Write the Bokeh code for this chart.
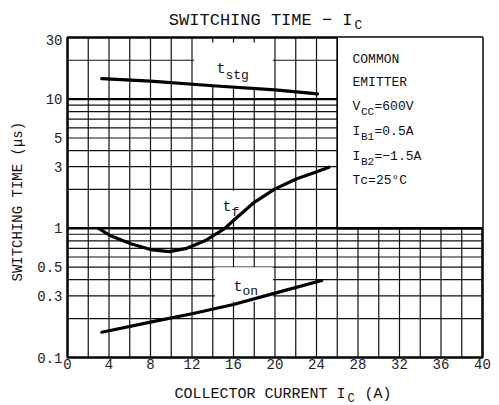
import numpy as np
from bokeh.plotting import figure
from bokeh.layouts import column
from bokeh.models import Label, FixedTicker
from bokeh.core.properties import value
from bokeh.embed import file_html
from bokeh.resources import INLINE

# ---- data ----
ic_stg = [3.3, 8, 14, 20, 24.1]
t_stg = [14.4, 13.8, 12.7, 11.8, 11.0]

ic_f = [3.0, 4.1, 6.1, 8.0, 9.8, 11.5, 13.3, 15.1, 16.0, 18.0, 20.0, 22.1, 24.1, 25.2]
t_f = [1.0, 0.88, 0.76, 0.685, 0.66, 0.70, 0.805, 0.99, 1.15, 1.59, 2.02, 2.42, 2.75, 2.97]

ic_on = [3.3, 8, 12, 16, 20, 24.5]
t_on = [0.157, 0.188, 0.218, 0.257, 0.315, 0.394]

x_ticks = [0, 4, 8, 12, 16, 20, 24, 28, 32, 36, 40]
x_tick_labels = ["0", "4", "8", "12", "16", "20", "24", "28", "32", "36", "40"]
y_ticks = [0.1, 0.3, 0.5, 1, 3, 5, 10, 30]
y_tick_labels = ["0.1", "0.3", "0.5", "1", "3", "5", "10", "30"]

x_grid = [0, 2, 4, 6, 8, 10, 12, 14, 16, 18, 20, 22, 24, 26, 28, 30, 32, 34, 36, 38, 40]
y_grid = [0.1, 0.2, 0.3, 0.4, 0.5, 0.6, 0.7, 0.8, 0.9, 1, 2, 3, 4, 5, 6, 7, 8, 9, 10, 20, 30]
y_grid_major = [1, 10]

title_main, title_sub = "SWITCHING TIME \u2212 I", "C"
xlabel_main, xlabel_sub, xlabel_unit = "COLLECTOR CURRENT I", "C", "(A)"
ylabel = "SWITCHING TIME  (\u03bcs)"

FONT = "Liberation Mono"

W = 491
TOP_H, BOT_H = 34, 27
ML, MR, MT, MB = 67, 9, 3, 20
FH = 320
H = MT + FH + MB
X0, X1 = 0, 40
Y0, Y1 = 0.1, 30


def strip(h):
    # frame lined up with the chart's frame; x data = page pixel
    f = figure(width=W, height=h, x_range=(ML, W - MR), y_range=(h, 0),
               output_backend="svg", toolbar_location=None,
               x_axis_location=None, y_axis_location=None,
               min_border_left=ML, min_border_right=MR,
               min_border_top=0, min_border_bottom=0)
    f.xgrid.visible = False
    f.ygrid.visible = False
    f.outline_line_color = None
    f.background_fill_color = "white"
    f.border_fill_color = "white"
    return f


def stext(f, x, y, t, size, align="left"):
    f.text(x=[x], y=[y], text=[t], text_font=value(FONT), text_font_size=value(f"{size}px"),
           text_color="#111111", text_baseline="alphabetic", text_align=align)


# ---- title strip ----
top = strip(TOP_H)
TA = 352
stext(top, TA, 20, title_main, 17, align="right")
stext(top, TA + 2, 25, title_sub, 13)

# ---- main chart ----
p = figure(width=W, height=H, x_range=(X0, X1), y_range=(Y0, Y1), y_axis_type="log",
           output_backend="svg", toolbar_location=None,
           min_border_left=ML, min_border_right=MR, min_border_top=MT, min_border_bottom=MB)
p.xgrid.visible = False
p.ygrid.visible = False
p.outline_line_color = "black"
p.outline_line_width = 2.5
p.background_fill_color = "white"
p.border_fill_color = "white"

for ax, ticks, labels in ((p.xaxis[0], x_ticks, x_tick_labels), (p.yaxis[0], y_ticks, y_tick_labels)):
    ax.ticker = FixedTicker(ticks=ticks)
    ax.major_label_overrides = {t: l for t, l in zip(ticks, labels)}
    ax.axis_line_color = None
    ax.major_tick_line_color = None
    ax.minor_tick_line_color = None
    ax.major_tick_in = 0
    ax.major_tick_out = 0
    ax.major_label_text_font = FONT
    ax.major_label_text_font_size = "14px"
    ax.major_label_text_color = "#222222"
p.xaxis.major_label_standoff = 1
p.yaxis.major_label_standoff = 5
p.yaxis.axis_label = ylabel
p.yaxis.axis_label_text_font = FONT
p.yaxis.axis_label_text_font_size = "14px"
p.yaxis.axis_label_text_font_style = "normal"
p.yaxis.axis_label_text_color = "#111111"
p.yaxis.axis_label_standoff = 8

# grid
p.segment(x0=x_grid, x1=x_grid, y0=[Y0] * len(x_grid), y1=[Y1] * len(x_grid),
          line_color="#111111", line_width=1.2)
p.segment(x0=[X0] * len(y_grid), x1=[X1] * len(y_grid), y0=y_grid, y1=y_grid,
          line_color="#111111", line_width=1.2)
p.segment(x0=[X0] * len(y_grid_major), x1=[X1] * len(y_grid_major), y0=y_grid_major, y1=y_grid_major,
          line_color="black", line_width=2.4)

# white label areas
p.quad(left=[26, 12.2, 14.3, 14.2], right=[40, 19.8, 17.5, 19.8],
       bottom=[1, 12.4, 1.2, 0.27], top=[30, 27.5, 1.95, 0.5],
       fill_color="white", line_color=None)
p.segment(x0=[26], x1=[26], y0=[1], y1=[30], line_color="black", line_width=1.5)
p.segment(x0=[26], x1=[40], y0=[1], y1=[1], line_color="black", line_width=2.4)

# curves
for xs, ys in ((ic_stg, t_stg), (ic_f, t_f), (ic_on, t_on)):
    p.line(xs, ys, line_color="black", line_width=3.2, line_join="round", line_cap="round")

# page pixel -> data helpers for annotation placement inside the chart
FW = W - ML - MR
LEFT = ML
BOTTOM = TOP_H + MT + FH
DEC = np.log10(Y1 / Y0)


def dx(px):
    return X0 + (px - LEFT) / FW * (X1 - X0)


def dy(py):
    return Y0 * 10 ** ((BOTTOM - py) / FH * DEC)


def lab(text, px, py, size):
    p.add_layout(Label(x=dx(px), y=dy(py), text=text, text_font=FONT,
                       text_font_size=f"{size}px", text_color="#111111",
                       text_align="left", text_baseline="alphabetic"))


# condition box
LX = 352
lab("COMMON", LX, 59, 13)
lab("EMITTER", LX, 82, 13)
lab("V", LX, 106, 13)
lab("CC", LX + 8.5, 111, 11)
lab("=600V", LX + 22, 106, 13)
lab("I", LX, 131, 13)
lab("B1", LX + 8.5, 136, 11)
lab("=0.5A", LX + 22, 131, 13)
lab("I", LX, 156, 13)
lab("B2", LX + 8.5, 161, 11)
lab("=\u22121.5A", LX + 22, 156, 13)
lab("Tc=25\u00b0C", LX, 180, 13)

# curve labels
lab("t", 216, 69, 15)
lab("stg", 225, 75, 13)
lab("t", 222, 207, 15)
lab("f", 231, 212, 13)
lab("t", 233, 287, 15)
lab("on", 242, 291, 13)

# ---- x-axis title strip ----
bot = strip(BOT_H)
XA = 345
stext(bot, XA, 17, xlabel_main, 15, align="right")
stext(bot, XA + 2, 21, xlabel_sub, 12)
stext(bot, XA + 19, 17, xlabel_unit, 15)

layout = column(top, p, bot, spacing=0)
open("out.html", "w").write(file_html(layout, INLINE))
